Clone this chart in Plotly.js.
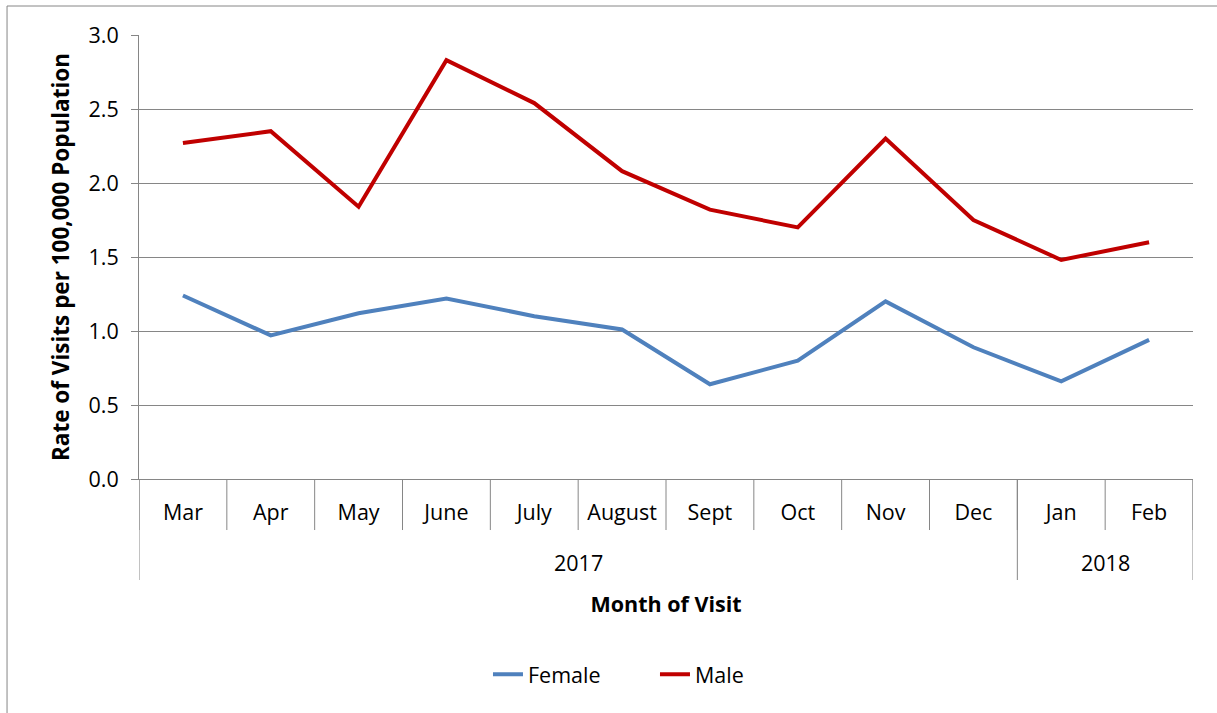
<!DOCTYPE html>
<html>
<head>
<meta charset="utf-8">
<script src="https://cdn.plot.ly/plotly-3.0.1.min.js"></script>
<style>html,body{margin:0;padding:0;background:#fff;}#chart{width:1217px;height:713px;}</style>
</head>
<body>
<div id="chart"></div>
<script>
const months = ["Mar","Apr","May","June","July","August","Sept","Oct","Nov","Dec","Jan","Feb"];
const years = ["2017","2017","2017","2017","2017","2017","2017","2017","2017","2017","2018","2018"];
const female = [1.24,0.97,1.12,1.22,1.10,1.01,0.64,0.80,1.20,0.89,0.66,0.94];
const male = [2.27,2.35,1.84,2.83,2.54,2.08,1.82,1.70,2.30,1.75,1.48,1.60];

const FONT = "'Open Sans', 'Noto Sans', sans-serif";
const grid = "#868686";
const TS = 21.5;

const traces = [
  {x:months, y:female, name:"Female", type:"scatter", mode:"lines",
   line:{color:"#4F81BD", width:4}},
  {x:months, y:male, name:"Male", type:"scatter", mode:"lines",
   line:{color:"#C00000", width:4}}
];

// category boundary separators and year group labels, from the data arrays
const shapes = [];
const annotations = [];
for (let i = 0; i <= months.length; i++) {
  shapes.push({type:"line", xref:"x", yref:"paper", x0:i-0.5, x1:i-0.5, y0:0, y1:-0.1149,
               line:{color:grid, width:1}});
}
let start = 0;
for (let i = 1; i <= years.length; i++) {
  if (i === years.length || years[i] !== years[start]) {
    shapes.push({type:"line", xref:"x", yref:"paper", x0:start-0.5, x1:start-0.5, y0:0, y1:-0.2275,
                 line:{color:grid, width:1}});
    annotations.push({xref:"x", yref:"paper", x:(start + i - 1)/2, y:-0.189, text:years[start],
                      showarrow:false, xanchor:"center", yanchor:"middle",
                      font:{family:FONT, size:TS, color:"#000"}});
    start = i;
  }
}
shapes.push({type:"line", xref:"x", yref:"paper", x0:years.length-0.5, x1:years.length-0.5, y0:0, y1:-0.2275,
             line:{color:grid, width:1}});
shapes.push({type:"rect", xref:"paper", yref:"paper", x0:-0.1252, x1:1.03, y0:-0.6, y1:1.0653,
             line:{color:grid, width:1}, fillcolor:"rgba(0,0,0,0)", layer:"below"});

const layout = {
  width:1217, height:713,
  margin:{l:139, r:24, t:35, b:234},
  paper_bgcolor:"#fff", plot_bgcolor:"#fff",
  font:{family:FONT, size:TS, color:"#000"},
  showlegend:true,
  legend:{orientation:"h", x:0.3311, xanchor:"left", y:-0.44, yanchor:"middle",
          entrywidth:122, entrywidthmode:"pixels",
          font:{family:FONT, size:TS, color:"#000"}},
  xaxis:{type:"category", range:[-0.5, months.length-0.5], showline:true, linecolor:grid, linewidth:1,
         ticks:"", showgrid:false, tickfont:{family:FONT, size:TS}, ticklabelstandoff:14,
         title:{text:"Month of Visit", font:{family:FONT, size:TS, weight:"bold"}, standoff:72}},
  yaxis:{range:[0,3], dtick:0.5, tick0:0, tickformat:".1f", showgrid:true, gridcolor:grid, gridwidth:1,
         showline:true, linecolor:grid, linewidth:1, ticks:"outside", ticklen:7, tickcolor:grid,
         zeroline:false, tickfont:{family:FONT, size:TS}, ticklabelstandoff:8,
         title:{text:"Rate of Visits per 100,000 Population", font:{family:FONT, size:22.5, weight:"bold"}, standoff:12}},
  shapes:shapes,
  annotations:annotations
};

Plotly.newPlot("chart", traces, layout, {displayModeBar:false, staticPlot:true});
</script>
</body>
</html>
